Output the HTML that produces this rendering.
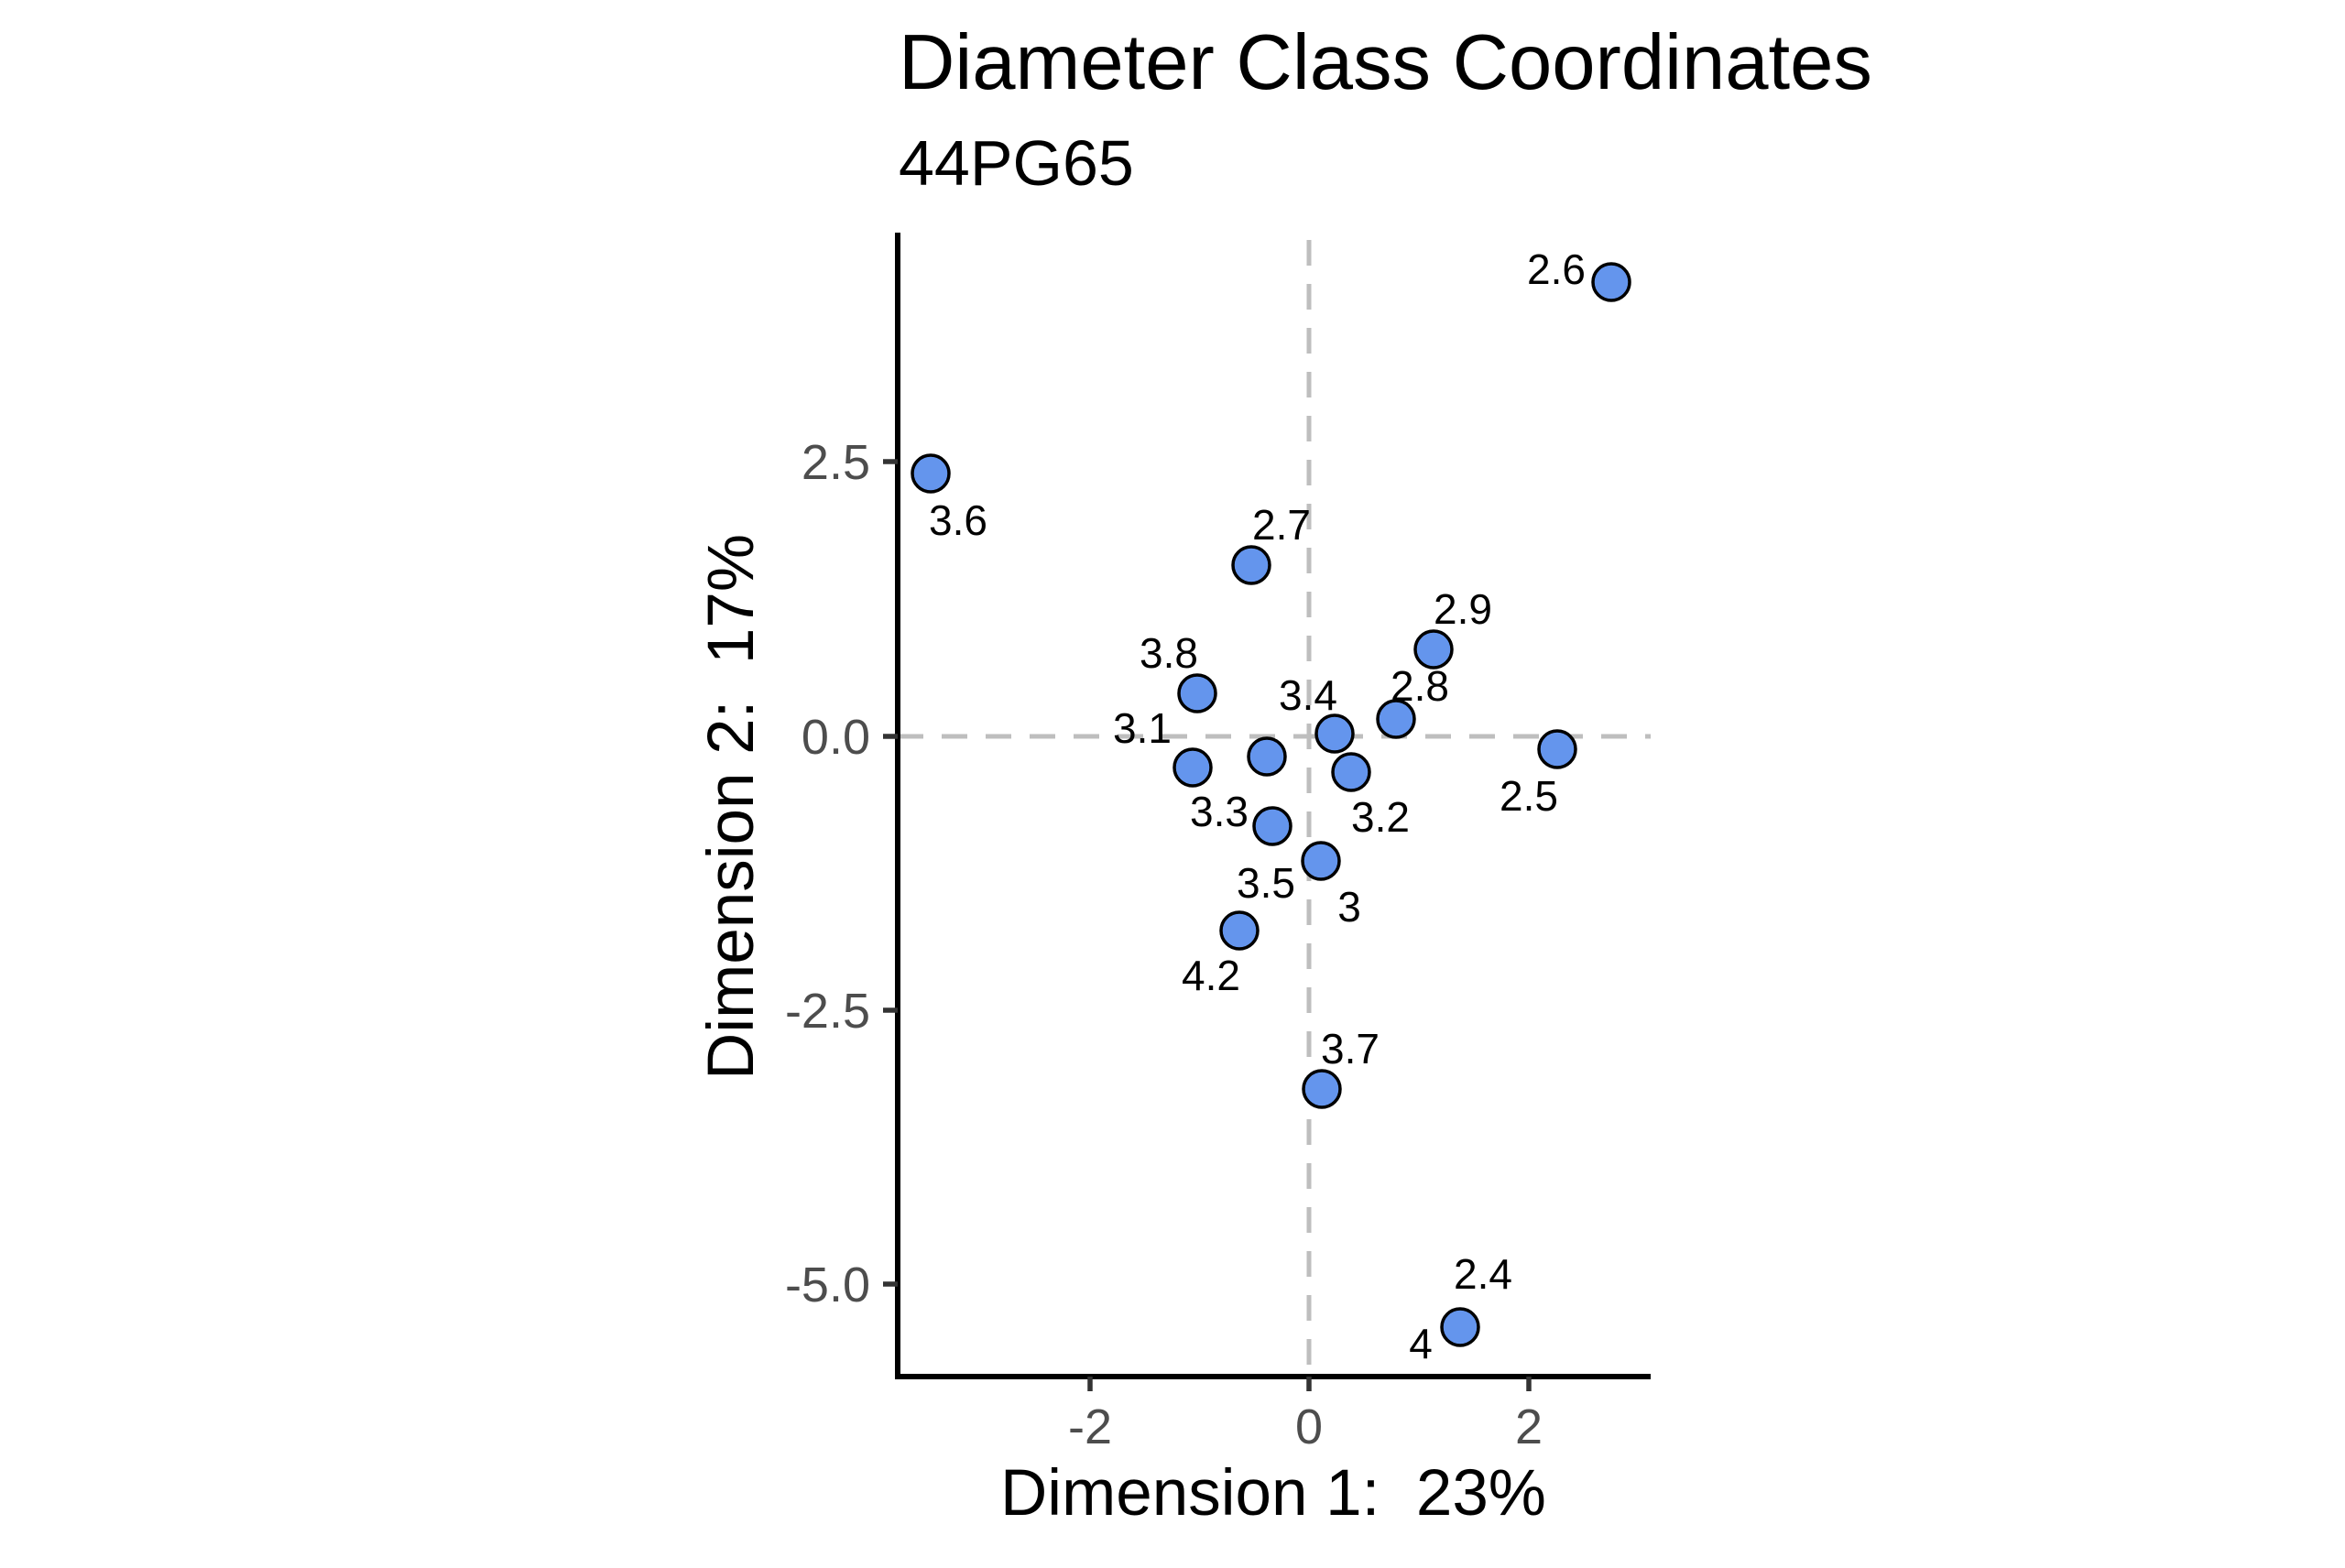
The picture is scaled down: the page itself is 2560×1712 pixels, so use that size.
<!DOCTYPE html>
<html><head><style>body{margin:0;background:#fff}</style></head><body>
<svg width="2560" height="1707" xmlns="http://www.w3.org/2000/svg" font-family="Liberation Sans, sans-serif">
<rect width="2560" height="1707" fill="#fff"/>
<text x="981" y="97" font-size="85">Diameter Class Coordinates</text>
<text x="981" y="202" font-size="70">44PG65</text>
<g stroke="#bebebe" stroke-width="5" stroke-dasharray="28,20">
<line x1="980" y1="804" x2="1802" y2="804"/>
<line x1="1429" y1="262" x2="1429" y2="1503"/>
</g>
<g stroke="#000" stroke-width="6">
<line x1="980" y1="254" x2="980" y2="1506"/>
<line x1="977" y1="1503" x2="1802" y2="1503"/>
</g>
<g stroke="#333" stroke-width="5.5">
<line x1="964" y1="504" x2="980" y2="504"/><line x1="964" y1="804" x2="980" y2="804"/>
<line x1="964" y1="1103" x2="980" y2="1103"/><line x1="964" y1="1402" x2="980" y2="1402"/>
<line x1="1190" y1="1503" x2="1190" y2="1519"/><line x1="1429" y1="1503" x2="1429" y2="1519"/><line x1="1669" y1="1503" x2="1669" y2="1519"/>
</g>
<g font-size="54" fill="#4d4d4d" text-anchor="end">
<text x="950" y="523">2.5</text><text x="950" y="823">0.0</text><text x="950" y="1122">-2.5</text><text x="950" y="1421">-5.0</text>
</g>
<g font-size="54" fill="#4d4d4d" text-anchor="middle">
<text x="1190" y="1576">-2</text><text x="1429" y="1576">0</text><text x="1669" y="1576">2</text>
</g>
<text x="1390" y="1654" font-size="71" text-anchor="middle">Dimension 1:&#160; 23%</text>
<text transform="translate(822,881) rotate(-90)" font-size="71" text-anchor="middle">Dimension 2:&#160; 17%</text>
<g fill="#6495ed" stroke="#000" stroke-width="3.5">
<circle cx="1759" cy="308" r="20"/><circle cx="1016" cy="517" r="20"/><circle cx="1366" cy="617" r="20"/>
<circle cx="1307" cy="757" r="20"/><circle cx="1565" cy="709" r="20"/><circle cx="1457" cy="801" r="20"/>
<circle cx="1524" cy="785" r="20"/><circle cx="1302" cy="838" r="20"/><circle cx="1383" cy="826" r="20"/>
<circle cx="1475" cy="843" r="20"/><circle cx="1700" cy="818" r="20"/><circle cx="1389" cy="902" r="20"/>
<circle cx="1442" cy="940" r="20"/><circle cx="1353" cy="1016" r="20"/><circle cx="1443" cy="1189" r="20"/>
<circle cx="1594" cy="1449" r="20"/>
</g>
<g font-size="46" text-anchor="middle" dominant-baseline="central">
<text x="1699" y="294">2.6</text><text x="1046" y="568">3.6</text><text x="1399" y="573">2.7</text>
<text x="1276" y="713">3.8</text><text x="1597" y="665">2.9</text><text x="1428" y="759">3.4</text>
<text x="1550" y="749">2.8</text><text x="1247" y="795">3.1</text><text x="1331" y="886">3.3</text>
<text x="1507" y="892">3.2</text><text x="1669" y="869">2.5</text><text x="1382" y="964">3.5</text>
<text x="1473" y="990">3</text><text x="1322" y="1065">4.2</text><text x="1474" y="1145">3.7</text>
<text x="1619" y="1391">2.4</text><text x="1551" y="1467">4</text>
</g>
</svg>
</body></html>
